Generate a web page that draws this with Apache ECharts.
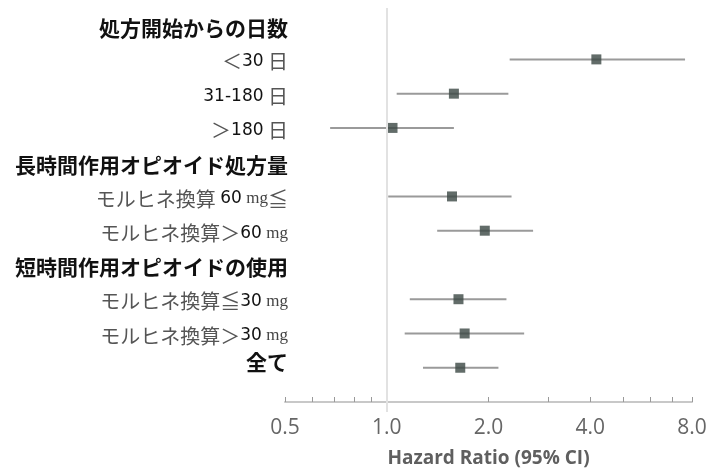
<!DOCTYPE html>
<html>
<head>
<meta charset="utf-8">
<style>
  html, body { margin: 0; padding: 0; background: #fff; }
  #main { width: 717px; height: 468px; }
</style>
<script src="https://cdn.jsdelivr.net/npm/echarts@6/dist/echarts.min.js"></script>
</head>
<body>
<div id="main"></div>
<script>
// rows, top to bottom (headers have no estimate)
const rowLabels = [
  '処方開始からの日数',
  '＜30 日',
  '31-180 日',
  '＞180 日',
  '長時間作用オピオイド処方量',
  'モルヒネ換算 60 mg≦',
  'モルヒネ換算＞60 mg',
  '短時間作用オピオイドの使用',
  'モルヒネ換算≦30 mg',
  'モルヒネ換算＞30 mg',
  '全て'
];
const headerRows = [0, 4, 7];
const totalRow = 10;

// hazard ratios with 95% CI
const estRows = [1, 2, 3, 5, 6, 8, 9, 10];
const hazardRatio = [4.17, 1.58, 1.04, 1.56, 1.95, 1.63, 1.70, 1.65];
const ciLower = [2.31, 1.07, 0.68, 1.01, 1.41, 1.17, 1.13, 1.28];
const ciUpper = [7.63, 2.29, 1.58, 2.34, 2.71, 2.26, 2.55, 2.14];

const xTickLabels = [0.5, 1, 2, 4, 8];
const xTickMarks = [0.5, 0.6, 0.7, 0.8, 0.9, 1, 2, 3, 4, 5, 6, 7, 8];
const refValue = 1;

const chart = echarts.init(document.getElementById('main'));

// split a label into rich text pieces
function richLabel(idx) {
  const text = rowLabels[idx];
  if (headerRows.includes(idx)) return '{h|' + text + '}';
  if (idx === totalRow) return '{t|' + text + '}';
  const parts = text.match(/mg|[0-9\-]+|[^0-9\-m]+/g) || [];
  return parts.map(p => {
    if (p === 'mg') return '{u|mg}';
    if (/^[0-9\-]+$/.test(p)) return '{n|' + p + '}';
    return '{j|' + p + '}';
  }).join('');
}

const ciData = estRows.map((r, i) => [ciLower[i], ciUpper[i], r]);
const pointData = estRows.map((r, i) => [hazardRatio[i], r]);

chart.setOption({
  animation: false,
  grid: { left: 285, right: 25, top: 8, bottom: 66, outerBoundsMode: 'none' },
  xAxis: [{
    type: 'log',
    logBase: 2,
    min: 0.5,
    max: 8,
    name: 'Hazard Ratio (95% CI)',
    nameLocation: 'middle',
    nameGap: 47,
    nameTextStyle: { fontFamily: 'Open Sans', fontWeight: 'bold', fontSize: 19, color: '#5f5f5f' },
    axisLine: { show: true, onZero: false, lineStyle: { color: '#c8c8c8', width: 2 } },
    axisTick: { show: true, inside: true, length: 5, customValues: xTickMarks,
      lineStyle: { color: '#999', width: 1 } },
    axisLabel: {
      customValues: xTickLabels,
      margin: 16,
      fontFamily: 'Open Sans',
      fontSize: 21,
      color: '#666',
      formatter: v => Number(v).toFixed(1)
    },
    splitLine: { show: false }
  }, {
    type: 'log',
    logBase: 2,
    min: 0.5,
    max: 8,
    position: 'bottom',
    axisLine: { show: false, onZero: false },
    axisLabel: { show: false },
    axisTick: { show: true, length: 10, customValues: [refValue],
      lineStyle: { color: '#e2e2e2', width: 2 } },
    splitLine: { show: false }
  }],
  yAxis: {
    type: 'value',
    inverse: true,
    min: -0.5,
    max: 11,
    interval: 0.5,
    axisLine: { show: false },
    axisTick: { show: false },
    splitLine: { show: false },
    axisLabel: {
      margin: -3,
      align: 'right',
      padding: [5, 0, 0, 0],
      formatter: v => {
        if (!Number.isInteger(v) || v < 0 || v >= rowLabels.length) return '';
        return richLabel(v);
      },
      rich: {
        h: { fontFamily: 'Noto Sans CJK JP', fontWeight: 'bold', fontSize: 21, color: '#111' },
        t: { fontFamily: 'Noto Sans CJK JP', fontWeight: 'bold', fontSize: 21, color: '#111',
          padding: [0, 0, 16, 0] },
        j: { fontFamily: 'Noto Sans CJK JP', fontSize: 20, color: '#555' },
        n: { fontFamily: 'DejaVu Sans', fontSize: 17, color: '#111' },
        u: { fontFamily: 'Liberation Serif', fontSize: 17, color: '#444' }
      }
    }
  },
  series: [{
    type: 'custom',
    name: 'ci',
    data: ciData,
    renderItem: (params, api) => {
      const a = api.coord([api.value(0), api.value(2)]);
      const b = api.coord([api.value(1), api.value(2)]);
      return {
        type: 'line',
        shape: { x1: a[0], y1: a[1], x2: b[0], y2: b[1] },
        style: { stroke: '#9a9a9a', lineWidth: 2 }
      };
    },
    z: 2
  }, {
    type: 'scatter',
    name: 'hr',
    data: pointData,
    symbol: 'rect',
    symbolSize: 10,
    itemStyle: { color: '#3b4744' },
    z: 3,
    markLine: {
      silent: true,
      symbol: 'none',
      label: { show: false },
      lineStyle: { color: '#e2e2e2', width: 2, type: 'solid' },
      data: [{ xAxis: refValue }]
    }
  }]
});
</script>
</body>
</html>
